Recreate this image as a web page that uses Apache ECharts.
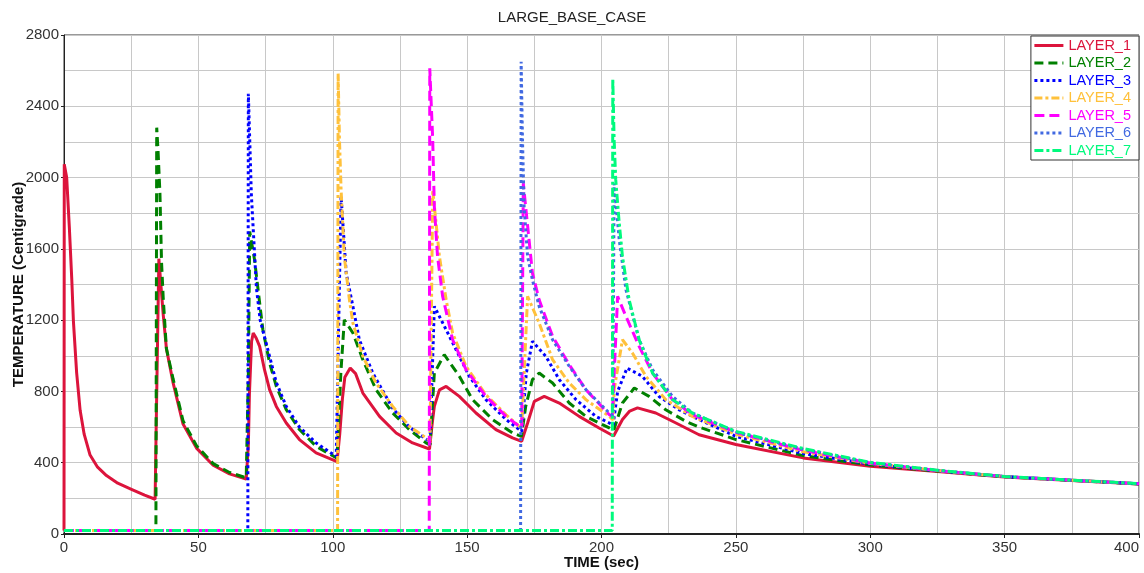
<!DOCTYPE html>
<html>
<head>
<meta charset="utf-8">
<script src="https://cdn.jsdelivr.net/npm/echarts@6/dist/echarts.min.js"></script>
<style>
  html, body { margin: 0; padding: 0; background: #fff; }
  #chart { width: 1144px; height: 573px; }
</style>
</head>
<body>
<div id="chart"></div>
<script>
// values: [time (sec), temperature (Centigrade)]
var LAYER_1 = [[0, 20], [0.1, 2075], [1.0, 2000], [2.0, 1716], [2.9, 1427], [3.5, 1195], [4.7, 906], [6.0, 694],
  [7.5, 560], [9.7, 443], [12.5, 375], [15.8, 328], [20, 285], [25.1, 251], [30, 218], [33.9, 195],
  [34.3, 600], [35.3, 1545], [36.9, 1234], [38.1, 1041], [40.6, 848], [44.3, 617], [49.3, 482], [55.5, 386],
  [61.6, 337], [67.8, 308], [68.6, 500], [69.0, 790], [69.8, 1080], [70.4, 1128], [71.5, 1100], [72.8, 1053],
  [74.6, 922], [76.5, 810], [79, 716], [82.7, 623], [87.6, 530], [93.8, 455], [101.6, 406],
  [102.6, 560], [103.6, 760], [104.5, 880], [106.5, 931], [108.5, 900],
  [111.2, 791], [117.4, 660], [123.6, 567], [129.7, 511], [136, 477], [137, 620], [137.8, 716], [139.7, 809],
  [142.2, 828], [147.1, 772], [153.3, 679], [160.7, 586], [166.9, 539], [170.3, 520], [172.5, 623], [175, 744],
  [178.7, 772], [184.3, 735], [191.7, 660], [199.1, 595], [204.5, 550], [207.8, 642], [210.5, 690], [213.4, 708],
  [220.2, 679], [227.7, 623], [236.3, 557], [250, 502], [275, 427], [300, 380], [325, 350], [350, 320],
  [375, 300], [400, 280]];

var LAYER_2 = [[0, 20], [34.2, 20], [34.5, 2280], [35.0, 2150], [35.7, 1909], [36.3, 1523], [36.9, 1330],
  [38.1, 1041], [40.6, 870], [44.3, 635], [49.3, 495], [55.5, 395], [61.6, 345], [67.8, 315], [68.6, 900],
  [69.1, 1697], [70.9, 1539], [72.8, 1296], [74, 1146], [76.5, 960], [79, 828], [82.7, 698], [87.6, 586],
  [93.8, 492], [101.6, 425],
  [103, 900], [104.3, 1202], [107.5, 1128], [111.2, 978], [116.1, 810], [122.3, 679], [128.5, 586],
  [134.7, 511], [136.2, 500], [137.8, 903], [141.5, 1006], [147.1, 885], [152, 754], [159.5, 642],
  [166.9, 567], [170.2, 548], [171.8, 716], [174.3, 866], [176.8, 903], [181.8, 847], [188, 735], [194.2, 660],
  [202.9, 595], [204.5, 580], [207.8, 735], [212.2, 819], [217.7, 772], [223.9, 697], [231.4, 632],
  [236.3, 600], [250, 530], [275, 440], [300, 387], [325, 353], [350, 321], [375, 301], [400, 281]];

var LAYER_3 = [[0, 20], [68.4, 20], [68.6, 2470], [69.7, 1909], [71.6, 1380], [73, 1200], [75.2, 1072],
  [79, 850], [82.7, 716], [87.6, 600], [93.8, 511], [101.3, 435], [103.1, 1894], [105, 1464], [107.5, 1277],
  [109.9, 1090],
  [114.9, 903], [122.3, 705], [128.5, 600], [135, 530], [136.2, 520], [137.8, 1277], [142.2, 1146],
  [145.9, 1034], [150.8, 885], [157, 754], [164.5, 642], [169.4, 586], [170.3, 575], [172, 900], [174.3, 1081],
  [179.3, 997], [184.3, 866], [190.5, 754], [197.9, 660], [202.9, 623], [204.3, 610], [206, 800], [209.5, 931],
  [215.2, 885], [221.4, 772], [228.9, 697], [236.3, 642], [250, 548], [275, 452], [300, 392], [325, 355],
  [350, 322], [375, 302], [400, 282]];

var LAYER_4 = [[0, 20], [101.8, 20], [102, 2585], [102.5, 2211], [103.1, 1931], [104.3, 1557], [106.2, 1314],
  [107.5, 1184], [111.2, 997], [116.1, 847], [122.3, 716], [128.5, 604], [134.7, 539], [136.2, 525],
  [137.2, 1931], [139.7, 1557], [142.2, 1314], [144.6, 1128], [149.6, 941], [157, 781], [164.5, 669],
  [169.4, 604], [170.3, 595], [172.5, 1333], [176.8, 1184], [181.8, 978], [188, 847], [194.2, 754],
  [202.9, 660], [204.3, 640], [204.7, 810], [207.8, 1090], [211.5, 1016], [216.5, 885], [223.9, 754],
  [233.8, 660], [250, 560], [275, 462], [300, 396], [325, 356], [350, 322], [375, 302], [400, 282]];

var LAYER_5 = [[0, 20], [135.9, 20], [136.1, 2613], [137.2, 2211], [137.8, 1837], [139, 1557], [140.9, 1333],
  [144.6, 1090], [149.6, 922], [157, 772], [164.5, 660], [169.4, 604], [170.3, 595], [170.9, 1968],
  [174.3, 1464], [176.8, 1314], [181.8, 1109], [188, 950], [194.2, 810], [202.9, 669], [204, 660],
  [206, 1333], [209.1, 1221], [214, 1053], [219, 903], [226.4, 754], [233.8, 669], [250, 570], [275, 470],
  [300, 398], [325, 356], [350, 322], [375, 302], [400, 282]];

var LAYER_6 = [[0, 20], [169.9, 20], [170.1, 2650], [170.6, 2211], [171.2, 1837], [172.5, 1557], [174.3, 1426],
  [176.8, 1277], [181.8, 1090], [188, 941], [194.2, 810], [202.9, 679], [204.2, 665], [204.7, 1968],
  [206.6, 1651], [209.1, 1371], [214, 1090], [219, 922], [226.4, 772], [233.8, 679], [250, 572], [275, 476],
  [300, 400], [325, 357], [350, 322], [375, 302], [400, 282]];

var LAYER_7 = [[0, 20], [204, 20], [204.2, 2557], [204.7, 2211], [205.3, 1987], [206.6, 1744], [207.8, 1557],
  [210.3, 1314], [214, 1090], [219, 903], [226.4, 754], [233.8, 679], [250, 576], [275, 480], [300, 402],
  [325, 358], [350, 323], [375, 302], [400, 283]];

var layerNames = ['LAYER_1', 'LAYER_2', 'LAYER_3', 'LAYER_4', 'LAYER_5', 'LAYER_6', 'LAYER_7'];
var layerData = [LAYER_1, LAYER_2, LAYER_3, LAYER_4, LAYER_5, LAYER_6, LAYER_7];
var layerColors = ['#DC143C', '#008000', '#0000FF', '#FFC13B', '#FF00FF', '#4169E1', '#00FA7D'];
var layerDash = ['solid', [9, 5], [3, 3], [8, 3, 3, 3], [10, 5], [3, 3], [9, 3, 3, 3]];

var FONT = '"Liberation Sans", Arial, sans-serif';

var chart = echarts.init(document.getElementById('chart'), null, { renderer: 'canvas' });

var series = layerNames.map(function (name, i) {
    return {
        name: name,
        type: 'line',
        data: layerData[i],
        symbol: 'none',
        smooth: false,
        animation: false,
        color: layerColors[i],
        lineStyle: { color: layerColors[i], width: 3, type: layerDash[i] }
    };
});

chart.setOption({
    animation: false,
    backgroundColor: '#fff',
    title: {
        text: 'LARGE_BASE_CASE',
        left: 'center',
        top: 5,
        textStyle: { fontFamily: FONT, fontSize: 15, fontWeight: 'normal', color: '#222' }
    },
    legend: {
        orient: 'vertical',
        right: 5,
        top: 36,
        padding: [2, 8, 2, 2],
        itemWidth: 29,
        itemHeight: 14,
        itemGap: 2.5,
        itemTextGap: 5,
        backgroundColor: '#fff',
        borderColor: '#333',
        borderWidth: 1,
        itemStyle: { opacity: 0 },
        lineStyle: { width: 3 },
        data: layerNames.map(function (n, i) {
            return { name: n, textStyle: { color: layerColors[i] } };
        }),
        textStyle: { fontFamily: FONT, fontSize: 14.5, lineHeight: 15 }
    },
    grid: {
        left: 64,
        right: 5,
        top: 35,
        bottom: 39,
        containLabel: false,
        outerBoundsMode: 'none',
        show: true,
        borderColor: '#333',
        borderWidth: 1
    },
    xAxis: {
        type: 'value',
        min: 0,
        max: 400,
        interval: 50,
        name: 'TIME (sec)',
        nameLocation: 'middle',
        nameGap: 21,
        nameMoveOverlap: false,
        nameTextStyle: { fontFamily: FONT, fontSize: 15, fontWeight: 'bold', color: '#111' },
        axisLine: { show: true, lineStyle: { color: '#222', width: 2 } },
        axisTick: { show: true, length: 4, lineStyle: { color: '#222' } },
        axisLabel: { fontFamily: FONT, fontSize: 15, color: '#333', margin: 6, alignMaxLabel: 'right' },
        splitLine: { show: true, lineStyle: { color: '#c8c8c8', width: 1 } },
        minorTick: { show: false, splitNumber: 2 },
        minorSplitLine: { show: true, lineStyle: { color: '#c8c8c8', width: 1 } }
    },
    yAxis: {
        type: 'value',
        min: 0,
        max: 2800,
        interval: 400,
        name: 'TEMPERATURE (Centigrade)',
        nameLocation: 'middle',
        nameGap: 38,
        nameMoveOverlap: false,
        nameTextStyle: { fontFamily: FONT, fontSize: 15, fontWeight: 'bold', color: '#111' },
        axisLine: { show: true, lineStyle: { color: '#222', width: 1 } },
        axisTick: { show: true, length: 3, lineStyle: { color: '#222' } },
        axisLabel: {
            fontFamily: FONT, fontSize: 15, color: '#333', margin: 5,
            formatter: function (v) { return String(v); }
        },
        splitLine: { show: true, lineStyle: { color: '#c8c8c8', width: 1 } },
        minorTick: { show: false, splitNumber: 2 },
        minorSplitLine: { show: true, lineStyle: { color: '#c8c8c8', width: 1 } }
    },
    series: series
});
</script>
</body>
</html>
